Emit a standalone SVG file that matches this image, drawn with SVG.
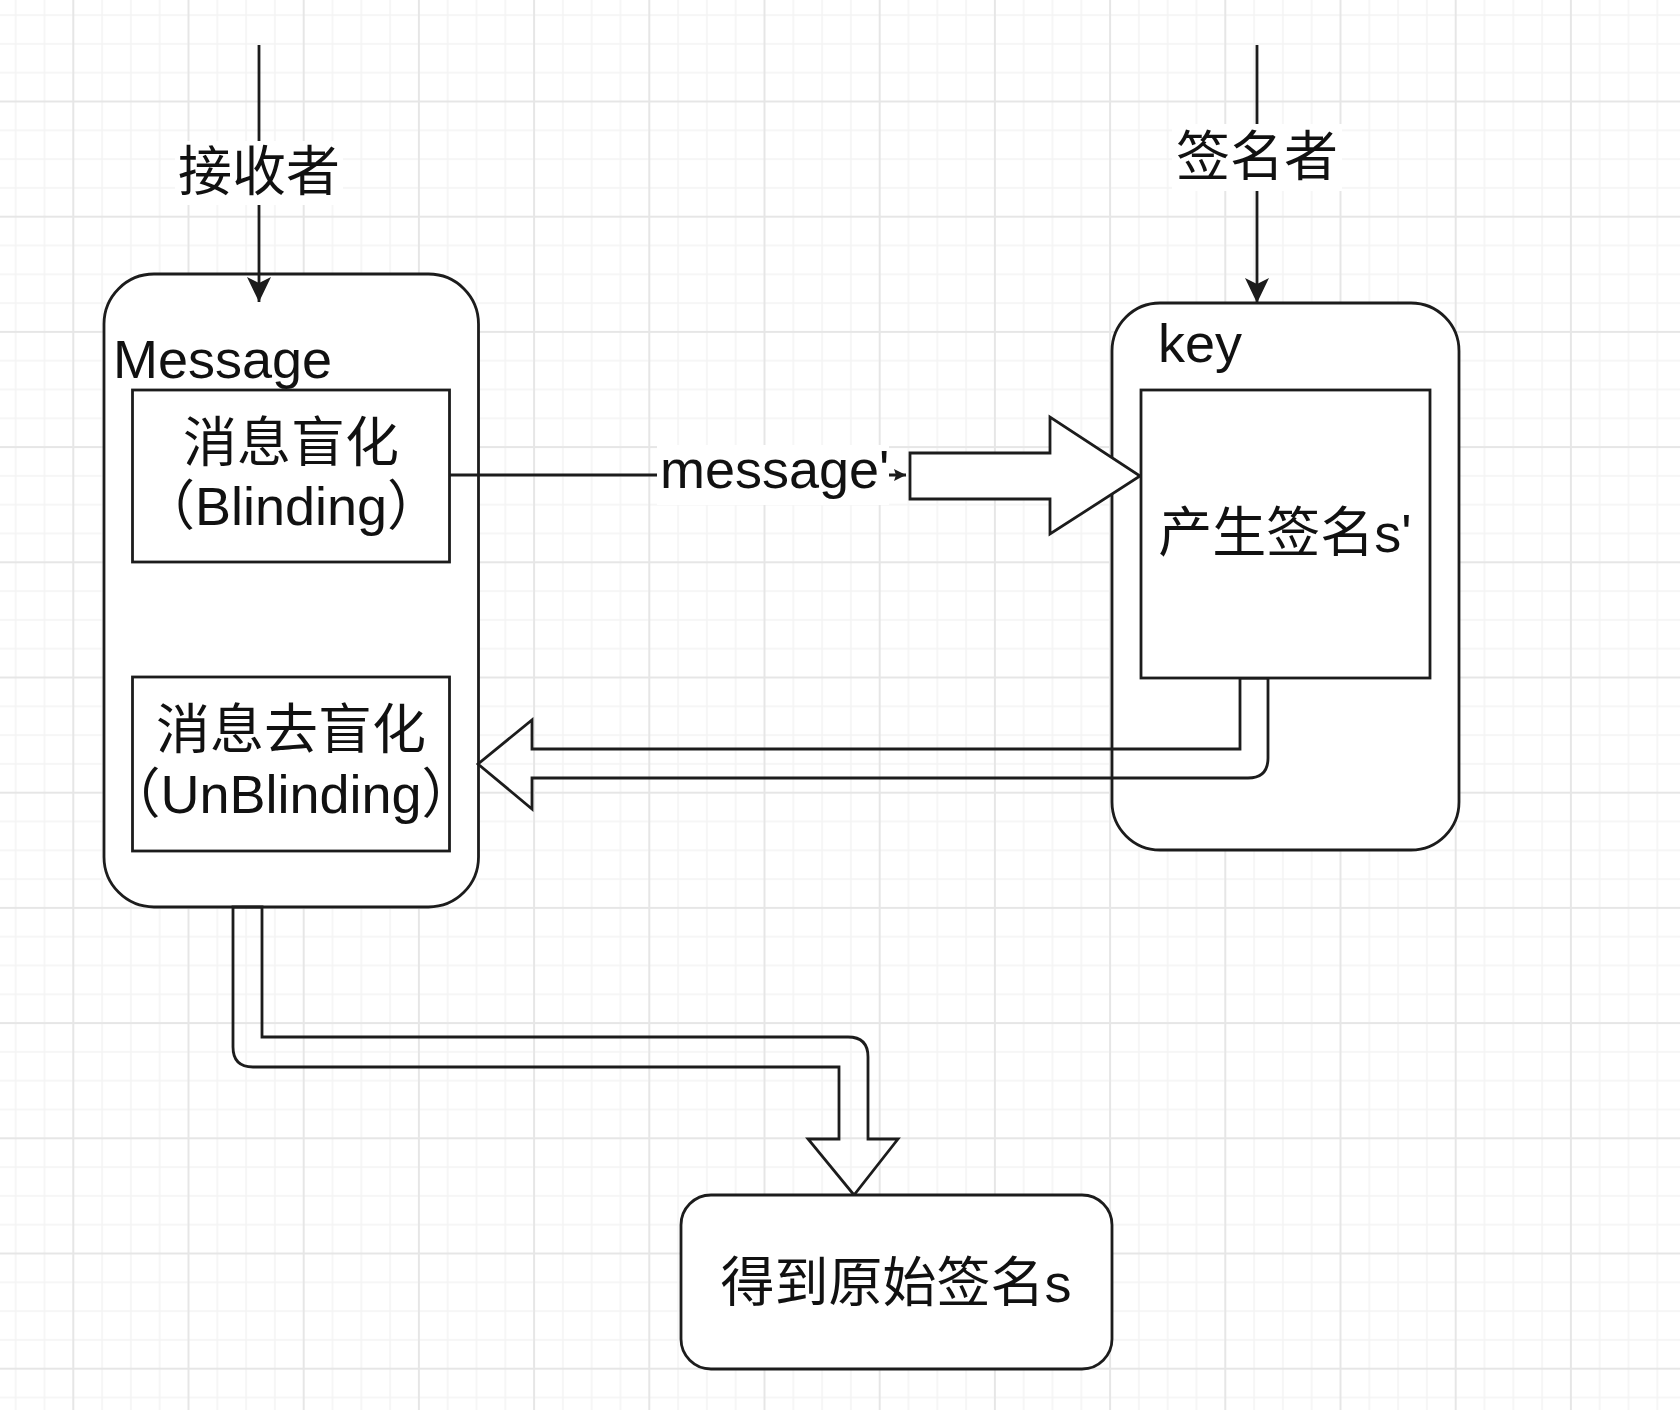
<svg xmlns="http://www.w3.org/2000/svg" width="1680" height="1410" viewBox="0 0 1680 1410">
<style>
.box{fill:#fff;stroke:#1c1c1c;stroke-width:2.8}
.ln{fill:none;stroke:#1c1c1c;stroke-width:2.8}
.blk{fill:#fff;stroke:#1c1c1c;stroke-width:2.8;stroke-linejoin:miter}
.flex{fill:none;stroke:#1c1c1c;stroke-width:2.8;stroke-linejoin:miter}
.t{font-family:"Liberation Sans","Noto Sans CJK SC",sans-serif;font-size:54px;fill:#111}
.c{text-anchor:middle}
.lbl{fill:#fff}
</style>
<defs>
<pattern id="grid" x="72.3" y="100.5" width="115.2" height="115.2" patternUnits="userSpaceOnUse">
<path d="M29.8 0V115.2M58.6 0V115.2M87.4 0V115.2M0 29.8H115.2M0 58.6H115.2M0 87.4H115.2" stroke="#f4f4f4" stroke-width="1.5" fill="none"/>
<path d="M1 0V115.2M0 1H115.2" stroke="#e6e6e6" stroke-width="2" fill="none"/>
</pattern>
<marker id="arr" viewBox="0 0 26 24" refX="25" refY="12" markerWidth="26" markerHeight="24" markerUnits="userSpaceOnUse" orient="auto">
<path d="M0 0L25 12L0 24L6 12Z" fill="#1c1c1c"/>
</marker>
<marker id="arrs" viewBox="0 0 13 12" refX="12" refY="6" markerWidth="13" markerHeight="12" markerUnits="userSpaceOnUse" orient="auto">
<path d="M0 0L12 6L0 12L2 6Z" fill="#1c1c1c"/>
</marker>
</defs>
<rect width="1680" height="1410" fill="#fff"/>
<rect width="1680" height="1410" fill="url(#grid)"/>

<g id="node-message">
<rect class="box" x="104" y="274" width="374.5" height="633" rx="50"/>
<text class="t" x="113" y="378">Message</text>
</g>
<g id="node-key">
<rect class="box" x="1112" y="303" width="347" height="547" rx="48"/>
<text class="t" x="1158" y="362">key</text>
</g>

<g id="connectors">
<g id="edge-receiver">
<line class="ln" x1="259" y1="45" x2="259" y2="302" marker-end="url(#arr)"/>
<rect class="lbl" x="175" y="141" width="168" height="64"/>
<text class="t c" x="259" y="191">接收者</text>
</g>
<g id="edge-signer">
<line class="ln" x1="1257" y1="45" x2="1257" y2="303" marker-end="url(#arr)"/>
<rect class="lbl" x="1172" y="124" width="170" height="67"/>
<text class="t c" x="1257" y="176">签名者</text>
</g>
<g id="edge-message-prime">
<line class="ln" x1="450" y1="475" x2="906" y2="475" marker-end="url(#arrs)"/>
<rect class="lbl" x="657" y="445" width="232" height="60"/>
<text class="t" x="660" y="488" font-size="53">message'</text>
<path class="blk" d="M910 453H1050V417L1140 476L1050 534V499H910Z"/>
</g>
<g id="edge-return">
<path class="flex" d="M1240 678V749H532V720L478 764L532 809V778H1248Q1268 778 1268 758V678Z"/>
</g>
<g id="edge-result">
<path class="flex" d="M233 907V1047Q233 1067 253 1067H839V1139H808L854 1195L898 1139H868V1057Q868 1037 848 1037H262V907Z"/>
</g>
</g>

<g id="node-blinding">
<rect class="box" x="132.5" y="390" width="317" height="172"/>
<text class="t c" x="291" y="462">消息盲化</text>
<text class="t c" x="291" y="525">（Blinding）</text>
</g>
<g id="node-unblinding">
<rect class="box" x="132.5" y="677" width="317" height="174"/>
<text class="t c" x="291" y="749">消息去盲化</text>
<text class="t c" x="291" y="813">（UnBlinding）</text>
</g>
<g id="node-sign">
<rect class="box" x="1141" y="390" width="289" height="288"/>
<text class="t c" x="1285" y="552">产生签名s'</text>
</g>
<g id="node-result">
<rect class="box" x="681" y="1195" width="431" height="174" rx="30"/>
<text class="t c" x="896" y="1302">得到原始签名s</text>
</g>
</svg>
